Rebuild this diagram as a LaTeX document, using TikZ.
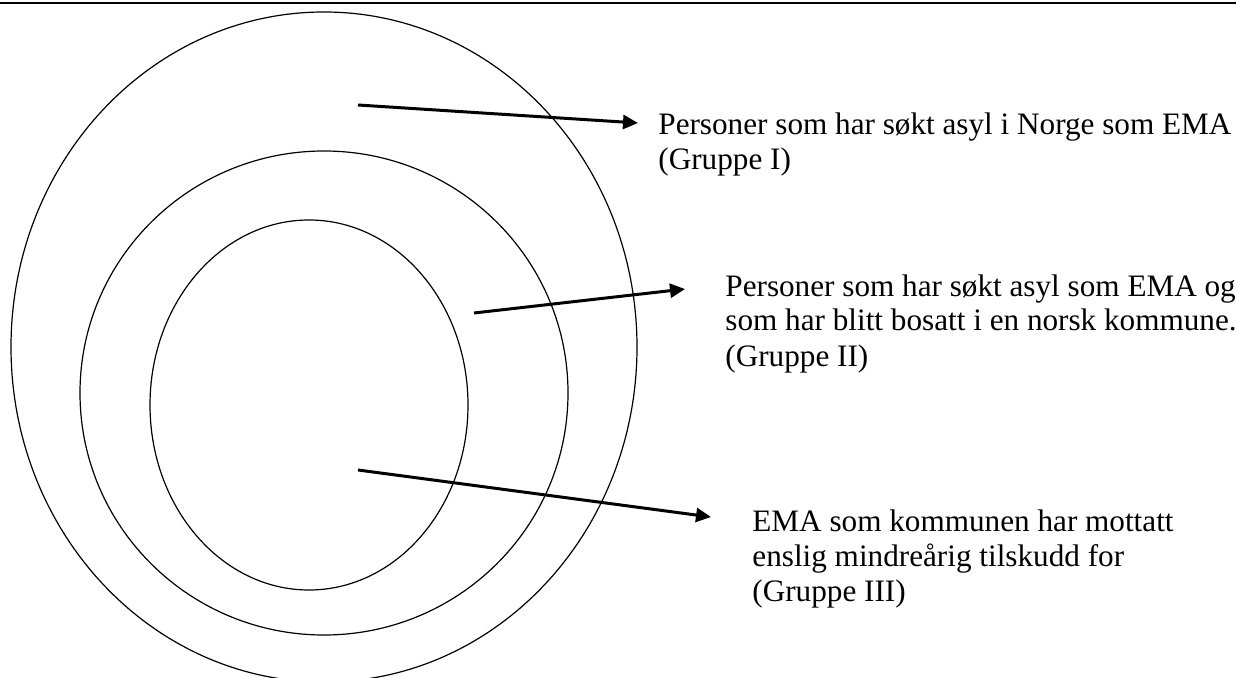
\documentclass[tikz,border=0pt]{standalone}
\usepackage{fontspec}
\setmainfont{Liberation Serif}
\usetikzlibrary{arrows.meta}

\begin{document}
\begin{tikzpicture}[x=0.5pt,y=-0.5pt,
    pointer/.style={-{Triangle[length=7.5pt,width=7pt]}, line width=1.5pt},
    gruppe/.style={anchor=base west, align=left, inner sep=0pt, font=\fontsize{15.6}{17.5}\selectfont}]
        \clip (0,0) rectangle (1236,678);
        \draw [line width=1.3pt] (0,3) -- (1236,3);
        % the three groups
        \draw [line width=0.6pt] (324,347) ellipse (313 and 335);
        \draw [line width=0.6pt] (324,393) ellipse (244 and 242);
        \draw [line width=0.6pt] (309,405) ellipse (159 and 185);
        % labels, placed at the baseline of their last line
        \node [gruppe] (g1) at (658,170) {Personer som har søkt asyl i Norge som EMA\\(Gruppe I)};
        \node [gruppe] (g2) at (725,366) {Personer som har søkt asyl som EMA og\\som har blitt bosatt i en norsk kommune.\\(Gruppe II)};
        \node [gruppe] (g3) at (752,601) {EMA som kommunen har mottatt\\enslig mindreårig tilskudd for\\(Gruppe III)};
        \coordinate (s1) at (358,105);
        \coordinate (e1) at (638,123);
        \coordinate (s2) at (474,313);
        \coordinate (e2) at (685,289);
        \coordinate (s3) at (358,470);
        \coordinate (e3) at (711,517);
        \draw [pointer] (s1) -- (e1);
        \draw [pointer] (s2) -- (e2);
        \draw [pointer] (s3) -- (e3);
\end{tikzpicture}
\end{document}
